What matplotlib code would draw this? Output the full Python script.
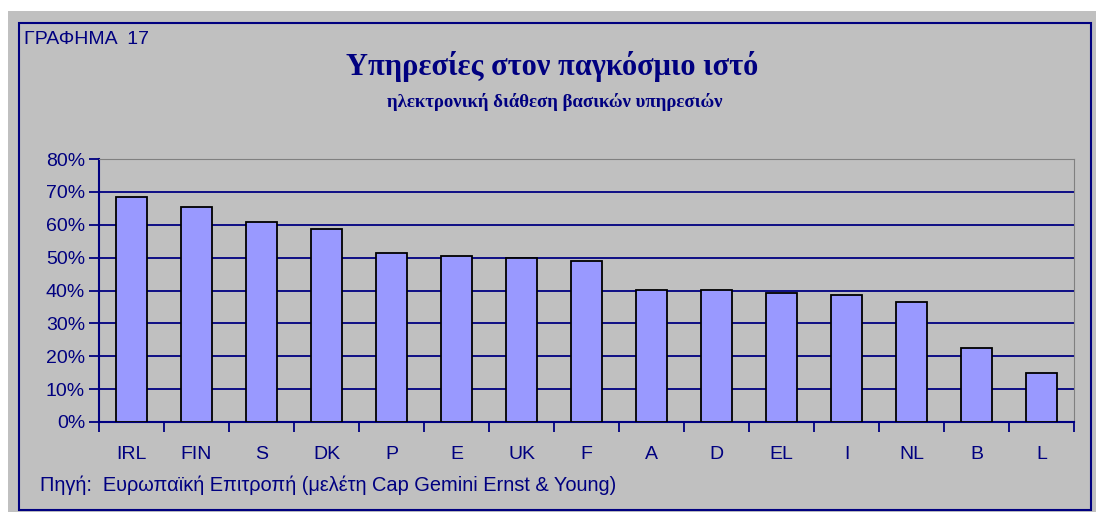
import matplotlib
matplotlib.use("Agg")
import matplotlib.pyplot as plt
from matplotlib.patches import Rectangle
from matplotlib.ticker import FuncFormatter, MultipleLocator

countries = ["IRL", "FIN", "S", "DK", "P", "E", "UK", "F", "A", "D", "EL", "I", "NL", "B", "L"]
values = [68.5, 65.3, 60.8, 58.7, 51.4, 50.5, 49.8, 48.9, 40.1, 40.1, 39.2, 38.6, 36.5, 22.6, 14.9]

title = "Υπηρεσίες στον παγκόσμιο ιστό"
subtitle = "ηλεκτρονική διάθεση βασικών υπηρεσιών"
chart_no = "ΓΡΑΦΗΜΑ  17"
source = "Πηγή:  Ευρωπαϊκή Επιτροπή (μελέτη Cap Gemini Ernst & Young)"

navy = "#000080"
panel = "#c0c0c0"
bar_color = "#9999ff"

W, H = 1096, 512
fig = plt.figure(figsize=(W / 100, H / 100), dpi=100)
fig.patch.set_facecolor("white")

# grey panel and navy frame (pixel coords -> figure fraction)
fig.patches.append(Rectangle((8 / W, 0), 1 - 8 / W, 1 - 11 / H, transform=fig.transFigure,
                             facecolor=panel, edgecolor="none", zorder=0))
fig.patches.append(Rectangle((19 / W, 2 / H), (1091 - 19) / W, (510 - 23) / H,
                             transform=fig.transFigure, facecolor="none",
                             edgecolor=navy, linewidth=1.5, zorder=1))

ax = fig.add_axes([99 / W, 1 - 422 / H, (1074 - 99) / W, (422 - 159) / H])
ax.set_zorder(3)
ax.set_facecolor(panel)

x = list(range(len(countries)))
ax.bar(x, values, width=0.47, color=bar_color, edgecolor="black", linewidth=1.3, zorder=3)

ax.set_xlim(-0.5, len(countries) - 0.5)
ax.set_ylim(0, 80)
ax.yaxis.set_major_locator(MultipleLocator(10))
ax.yaxis.set_major_formatter(FuncFormatter(lambda v, p: f"{v:.0f}%"))
ax.grid(axis="y", color=navy, linewidth=1.3, zorder=1)
ax.set_axisbelow(True)

ax.set_xticks(x)
ax.set_xticklabels(countries)
ax.set_xticks([i - 0.5 for i in range(len(countries) + 1)], minor=True)
ax.tick_params(axis="x", which="major", length=0, pad=17, labelsize=14, labelcolor=navy)
ax.tick_params(axis="x", which="minor", length=7, width=1.3, color=navy, direction="out")
ax.tick_params(axis="y", length=7, width=1.3, color=navy, labelsize=14, labelcolor=navy, pad=3)

for lab in ax.get_xticklabels() + ax.get_yticklabels():
    lab.set_fontfamily("Liberation Sans")

ax.spines["left"].set_color(navy)
ax.spines["bottom"].set_color(navy)
ax.spines["left"].set_linewidth(1.5)
ax.spines["bottom"].set_linewidth(1.5)
ax.spines["top"].set_color("#808080")
ax.spines["right"].set_color("#808080")

fig.text(24 / W, 1 - 39 / H, chart_no, fontsize=14, color=navy, family="Liberation Sans",
         va="center", ha="left")
fig.text(552 / W, 1 - 67 / H, title, fontsize=22, color=navy, family="Liberation Serif",
         fontweight="bold", ha="center", va="center")
fig.text(555 / W, 1 - 102 / H, subtitle, fontsize=13.5, color=navy, family="Liberation Serif",
         fontweight="bold", ha="center", va="center")
fig.text(40 / W, 1 - 485 / H, source, fontsize=14.4, color=navy, family="Liberation Sans",
         ha="left", va="center")

fig.savefig("out.png", dpi=100)
